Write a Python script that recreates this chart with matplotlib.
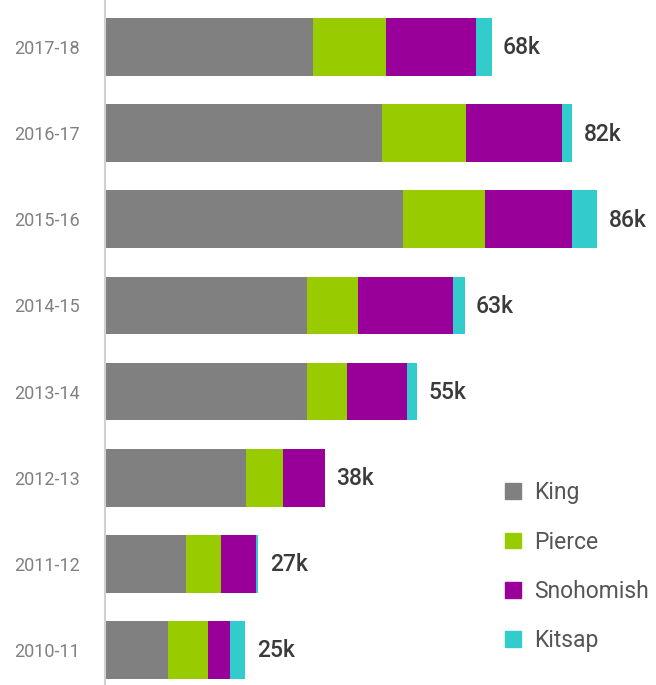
import matplotlib
matplotlib.use("Agg")
import matplotlib.pyplot as plt
from matplotlib.patches import Patch

years = ["2010-11", "2011-12", "2012-13", "2013-14", "2014-15", "2015-16", "2016-17", "2017-18"]
king = [11.0, 14.2, 24.7, 35.2, 35.2, 52.0, 48.3, 36.3]
pierce = [7.0, 6.1, 6.3, 7.0, 8.9, 14.3, 14.7, 12.8]
snohomish = [3.9, 6.0, 7.4, 10.5, 16.6, 15.3, 16.8, 15.6]
kitsap = [2.6, 0.5, 0.0, 1.8, 2.1, 4.3, 1.8, 2.8]
total_labels = ["25k", "27k", "38k", "55k", "63k", "86k", "82k", "68k"]

series = [("King", king, "#808080"), ("Pierce", pierce, "#99cc00"),
          ("Snohomish", snohomish, "#990099"), ("Kitsap", kitsap, "#33cccc")]

plt.rcParams["font.family"] = ["Roboto", "DejaVu Sans"]

fig = plt.figure(figsize=(6.56, 6.85), dpi=100)
ax = fig.add_axes([105 / 656, 0, 1 - 105 / 656, 1])

y = list(range(len(years)))
left = [0.0] * len(years)
for name, vals, col in series:
    ax.barh(y, vals, left=left, height=0.67, color=col, label=name)
    left = [a + b for a, b in zip(left, vals)]

for yi, tot, lab in zip(y, left, total_labels):
    ax.text(tot + 2.0, yi - 0.01, lab, va="center", ha="left", fontsize=16.5,
            fontweight="medium", color="#3a3a3a")

ax.set_xlim(0, 551 / 5.727)
ax.set_ylim(-0.406, 7.546)
ax.set_yticks(y)
ax.set_yticklabels(years, fontsize=13, color="#808080")
ax.tick_params(axis="y", length=0, pad=18)
ax.set_xticks([])
for s in ["top", "right", "bottom"]:
    ax.spines[s].set_visible(False)
ax.spines["left"].set_color("#d0d0d0")
ax.spines["left"].set_linewidth(1.5)

handles = [Patch(color=c, label=n) for n, _, c in series]
leg = fig.legend(handles=handles, loc="upper left", bbox_to_anchor=(496 / 656, 1 - 472 / 685),
                 frameon=False, fontsize=16.5, handlelength=0.68, handleheight=0.68,
                 handletextpad=0.6, labelspacing=1.15, borderaxespad=0)
for t in leg.get_texts():
    t.set_color("#555555")

fig.savefig("out.png", dpi=100)
